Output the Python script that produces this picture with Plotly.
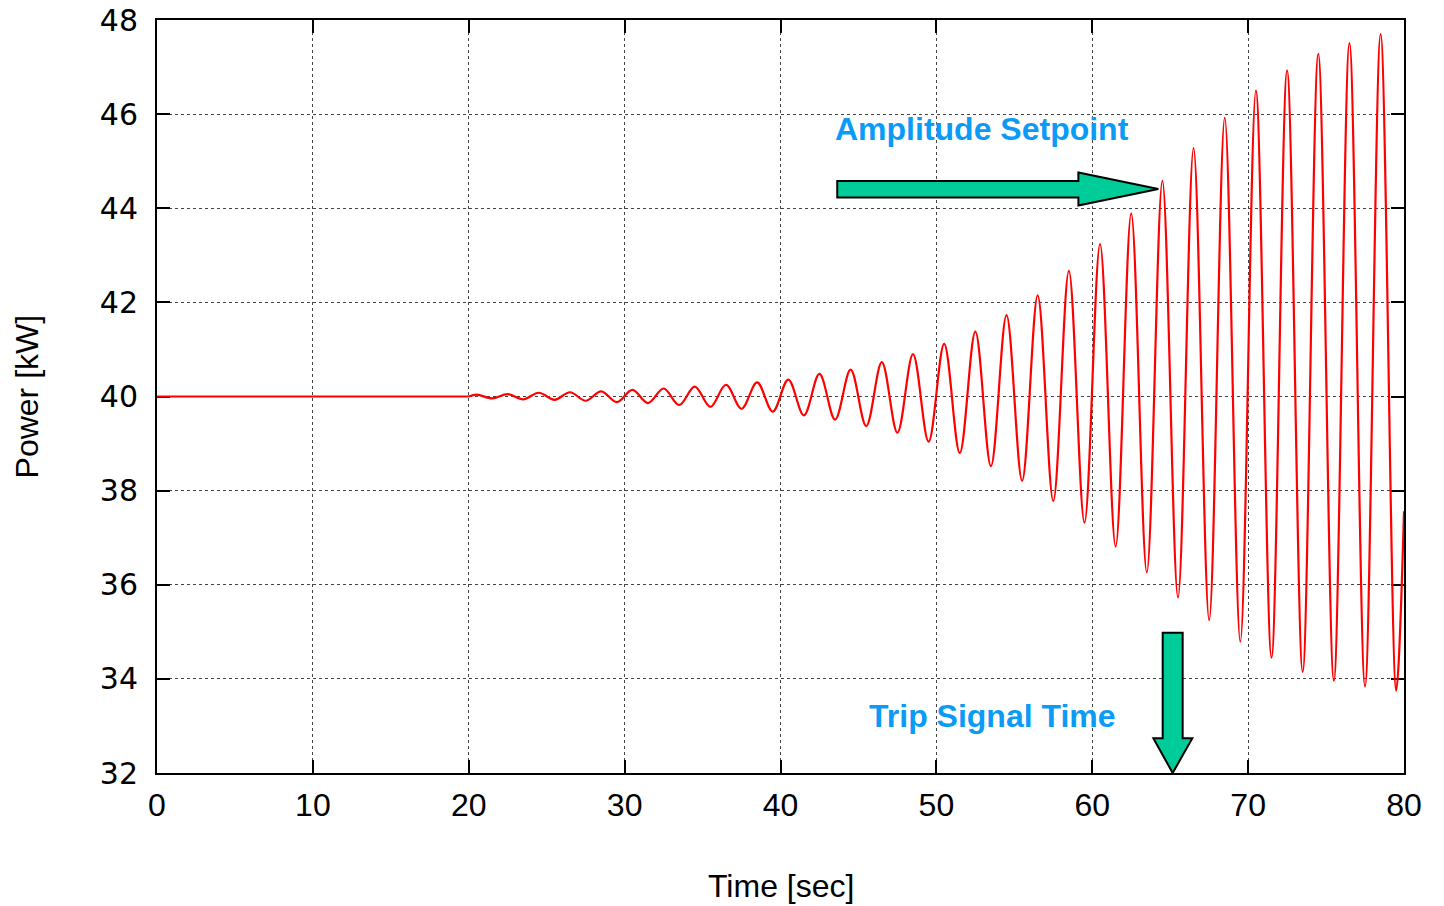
import plotly.graph_objects as go

# ---- data ----
time_s = [0, 20, 20.5, 21.5, 22.5, 23.5, 24.5, 25.5, 26.5, 27.5, 28.5, 29.5,
          30.5, 31.5, 32.5, 33.5, 34.5, 35.5, 36.5, 37.5, 38.5, 39.5,
          40.5, 41.5, 42.5, 43.5, 44.5, 45.5, 46.5, 47.5, 48.5, 49.5,
          50.5, 51.5, 52.5, 53.5, 54.5, 55.5, 56.5, 57.5, 58.5, 59.5,
          60.5, 61.5, 62.5, 63.5, 64.5, 65.5, 66.5, 67.5, 68.5, 69.5,
          70.5, 71.5, 72.5, 73.5, 74.5, 75.5, 76.5, 77.5, 78.5, 79.5, 80]
power_kw = [40.0, 40.0, 40.04, 39.96, 40.05, 39.94, 40.08, 39.93, 40.09, 39.91, 40.11, 39.88,
            40.14, 39.86, 40.17, 39.82, 40.21, 39.78, 40.25, 39.74, 40.30, 39.68,
            40.36, 39.60, 40.48, 39.51, 40.57, 39.37, 40.73, 39.23, 40.90, 39.04,
            41.12, 38.80, 41.38, 38.52, 41.73, 38.21, 42.15, 37.78, 42.67, 37.32,
            43.24, 36.81, 43.89, 36.26, 44.58, 35.73, 45.28, 35.25, 45.92, 34.79,
            46.50, 34.45, 46.93, 34.15, 47.28, 33.96, 47.51, 33.84, 47.70, 33.75, 37.56]

x_ticks = [0, 10, 20, 30, 40, 50, 60, 70, 80]
y_ticks = [32, 34, 36, 38, 40, 42, 44, 46, 48]

# split: steady part (straight) and oscillating part (smooth)
steady_t = [t for t in time_s if t <= 20]
steady_p = power_kw[:len(steady_t)]
osc_t = [t for t in time_s if t >= 20]
osc_p = power_kw[len(steady_t) - 1:]

fig = go.Figure()
fig.add_trace(go.Scatter(
    x=steady_t, y=steady_p, mode="lines",
    line=dict(color="#ff0000", width=2.2),
    showlegend=False, hoverinfo="skip", cliponaxis=False,
))
fig.add_trace(go.Scatter(
    x=osc_t, y=osc_p, mode="lines",
    line=dict(color="#ff0000", width=2.2, shape="spline", smoothing=1),
    showlegend=False, hoverinfo="skip",
))

ARROW_FILL = "#00cc99"
TEXT_BLUE = "#0a9bf7"

# horizontal arrow (Amplitude Setpoint)
h_arrow = ("M 43.64,44.58 L 59.11,44.58 L 59.11,44.76 L 64.24,44.41 "
           "L 59.11,44.06 L 59.11,44.23 L 43.64,44.23 Z")
# vertical arrow (Trip Signal Time)
v_arrow = ("M 64.52,34.98 L 65.80,34.98 L 65.80,32.74 L 66.42,32.74 "
           "L 65.16,32.0 L 63.92,32.74 L 64.52,32.74 Z")

shapes = [
    dict(type="path", path=h_arrow, xref="x", yref="y",
         fillcolor=ARROW_FILL, line=dict(color="black", width=2), layer="above"),
    dict(type="path", path=v_arrow, xref="x", yref="y",
         fillcolor=ARROW_FILL, line=dict(color="black", width=2), layer="above"),
]

annotations = [
    dict(text="<b>Amplitude Setpoint</b>", x=52.93, y=45.68, xref="x", yref="y",
         showarrow=False, xanchor="center", yanchor="middle",
         font=dict(family="Liberation Sans, Arial, sans-serif", size=32, color=TEXT_BLUE)),
    dict(text="<b>Trip Signal Time</b>", x=53.57, y=33.21, xref="x", yref="y",
         showarrow=False, xanchor="center", yanchor="middle",
         font=dict(family="Liberation Sans, Arial, sans-serif", size=32, color=TEXT_BLUE)),
    dict(text="Time [sec]", x=0.5, y=-0.150, xref="paper", yref="paper",
         showarrow=False, xanchor="center", yanchor="middle",
         font=dict(family="Liberation Sans, Arial, sans-serif", size=32, color="black")),
    dict(text="Power [kW]", x=-0.1043, y=0.5, xref="paper", yref="paper",
         showarrow=False, xanchor="center", yanchor="middle", textangle=-90,
         font=dict(family="Liberation Sans, Arial, sans-serif", size=32, color="black")),
]

axis_common = dict(
    showline=True, linecolor="black", linewidth=2, mirror="ticks",
    ticks="inside", ticklen=13, tickwidth=2, tickcolor="black",
    showgrid=True, gridcolor="#444444", gridwidth=1, griddash="dot",
    zeroline=False, automargin=False, layer="below traces",
)

fig.update_layout(
    width=1444, height=906,
    margin=dict(l=157, r=40, t=20, b=133),
    paper_bgcolor="white", plot_bgcolor="white",
    shapes=shapes, annotations=annotations,
    xaxis=dict(range=[0, 80], tickvals=x_ticks, ticktext=[str(v) for v in x_ticks],
               tickfont=dict(family="Liberation Sans, Arial, sans-serif", size=32, color="black"),
               ticklabelstandoff=3, **axis_common),
    yaxis=dict(range=[32, 48], tickvals=y_ticks, ticktext=[str(v) for v in y_ticks],
               tickfont=dict(family="DejaVu Sans, Verdana, sans-serif", size=30, color="black"),
               ticklabelstandoff=11, **axis_common),
)

fig.write_html("out.html")
